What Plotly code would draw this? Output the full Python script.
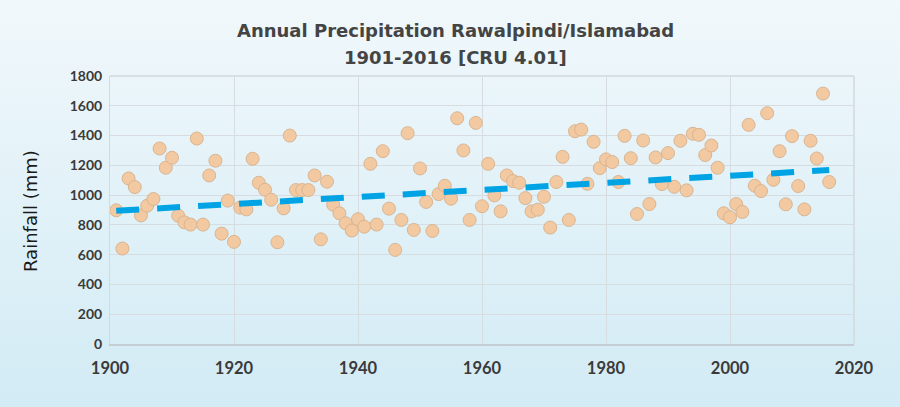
import base64
import plotly.graph_objects as go

# ---- data ----
years = list(range(1901, 2017))
rainfall = [
    898, 641, 1112, 1054, 864, 929, 974, 1313, 1184, 1251,   # 1901-1910
    862, 817, 802, 1380, 802, 1132, 1231, 741, 963, 686,     # 1911-1920
    916, 904, 1244, 1083, 1036, 969, 683, 911, 1400, 1034,   # 1921-1930
    1034, 1034, 1132, 703, 1090, 936, 878, 811, 762, 838,    # 1931-1940
    788, 1210, 802, 1295, 909, 632, 833, 1416, 766, 1179,    # 1941-1950
    954, 759, 1007, 1063, 976, 1516, 1300, 833, 1485, 925,   # 1951-1960
    1210, 998, 891, 1132, 1094, 1083, 980, 891, 902, 989,    # 1961-1970
    782, 1088, 1257, 833, 1429, 1440, 1076, 1358, 1181, 1240,  # 1971-1980
    1222, 1088, 1398, 1248, 873, 1367, 940, 1253, 1074, 1282,  # 1981-1990
    1056, 1365, 1032, 1412, 1405, 1269, 1333, 1184, 878, 851,  # 1991-2000
    940, 887, 1472, 1063, 1027, 1550, 1103, 1295, 938, 1396,   # 2001-2010
    1061, 904, 1365, 1246, 1682, 1088,                         # 2011-2016
]
# linear trendline end points
trend_years = [1901, 2016]
trend_values = [895, 1168]

x_ticks = [1900, 1920, 1940, 1960, 1980, 2000, 2020]
y_ticks = [0, 200, 400, 600, 800, 1000, 1200, 1400, 1600, 1800]
title_lines = ["Annual Precipitation Rawalpindi/Islamabad", "1901-2016 [CRU 4.01]"]
y_title = "Rainfall (mm)"

W, H = 900, 407
ml, mr, mt, mb = 110, 46, 76, 63
pw, ph = W - ml - mr, H - mt - mb

# background gradient as an SVG image
svg = (
    '<svg xmlns="http://www.w3.org/2000/svg" width="900" height="407" preserveAspectRatio="none">'
    '<defs><linearGradient id="g" x1="0" y1="0" x2="0" y2="1">'
    '<stop offset="0" stop-color="#F1F8FB"/><stop offset="1" stop-color="#D2EBF5"/>'
    '</linearGradient></defs><rect width="900" height="407" fill="url(#g)"/></svg>'
)
bg_src = "data:image/svg+xml;base64," + base64.b64encode(svg.encode()).decode()

tick_font = "Lato, 'Open Sans', sans-serif"
wide_font = "'DejaVu Sans', Verdana, sans-serif"


def px_x(px):
    return (px - ml) / pw


def px_y(py):
    return 1 - (py - mt) / ph


fig = go.Figure()
fig.add_trace(go.Scatter(
    x=years, y=rainfall, mode="markers",
    marker=dict(size=13, color="#F3C9A1", line=dict(color="#D8B592", width=1)),
    hoverinfo="x+y", showlegend=False,
))
fig.add_trace(go.Scatter(
    x=trend_years, y=trend_values, mode="lines",
    line=dict(color="#00A3E4", width=6, dash="23px,18px"),
    hoverinfo="skip", showlegend=False,
))

title_annotations = [
    dict(text="<b>" + t + "</b>", xref="paper", yref="paper",
         x=px_x(455.5), y=px_y(cy), xanchor="center", yanchor="middle",
         showarrow=False,
         font=dict(family=wide_font, size=18, color="#444444"))
    for t, cy in zip(title_lines, [31, 58])
]

fig.update_layout(
    width=W, height=H,
    margin=dict(l=ml, r=mr, t=mt, b=mb, autoexpand=False),
    paper_bgcolor="#E2F1F8",
    plot_bgcolor="rgba(0,0,0,0)",
    images=[dict(
        source=bg_src, xref="paper", yref="paper",
        x=-ml / pw, y=1 + mt / ph, sizex=W / pw, sizey=H / ph,
        xanchor="left", yanchor="top", sizing="stretch", layer="below",
    )],
    xaxis=dict(
        range=[1900, 2020], tickvals=x_ticks, ticktext=[str(v) for v in x_ticks],
        showgrid=True, gridcolor="#D6DCDF", gridwidth=1,
        showline=True, linecolor="#C4CDD3", linewidth=2, mirror=False,
        zeroline=False, ticks="", ticklen=0, ticklabelstandoff=8,
        tickfont=dict(family=tick_font, size=16.5, color="#3A3A3A", weight="bold"),
        fixedrange=True,
    ),
    yaxis=dict(
        range=[0, 1800], tickvals=y_ticks, ticktext=[str(v) for v in y_ticks],
        showgrid=True, gridcolor="#D6DCDF", gridwidth=1,
        showline=True, linecolor="#D3D9DD", linewidth=1, mirror=False,
        zeroline=False, ticks="", ticklen=0, ticklabelstandoff=4,
        tickfont=dict(family=tick_font, size=14, color="#3A3A3A", weight="bold"),
        fixedrange=True,
    ),
    annotations=title_annotations + [dict(
        text=y_title, textangle=-90,
        xref="paper", yref="paper",
        x=px_x(30), y=px_y(211),
        xanchor="center", yanchor="middle", showarrow=False,
        font=dict(family=wide_font, size=18, color="#1A1A1A"),
    )],
    shapes=[
        dict(type="line", xref="paper", yref="paper", x0=1, x1=1, y0=0, y1=1,
             line=dict(color="#D3D9DD", width=1.5), layer="below"),
        dict(type="line", xref="paper", yref="paper", x0=0, x1=1, y0=1, y1=1,
             line=dict(color="#D3D9DD", width=1.5), layer="below"),
    ],
)

fig.write_html("out.html", config={"displayModeBar": False})

# remove the default page margin so the 900x407 figure fills the window
with open("out.html", encoding="utf-8") as f:
    html = f.read()
html = html.replace("<head>", "<head><style>html,body{margin:0;padding:0;overflow:hidden;}</style>", 1)
with open("out.html", "w", encoding="utf-8") as f:
    f.write(html)
